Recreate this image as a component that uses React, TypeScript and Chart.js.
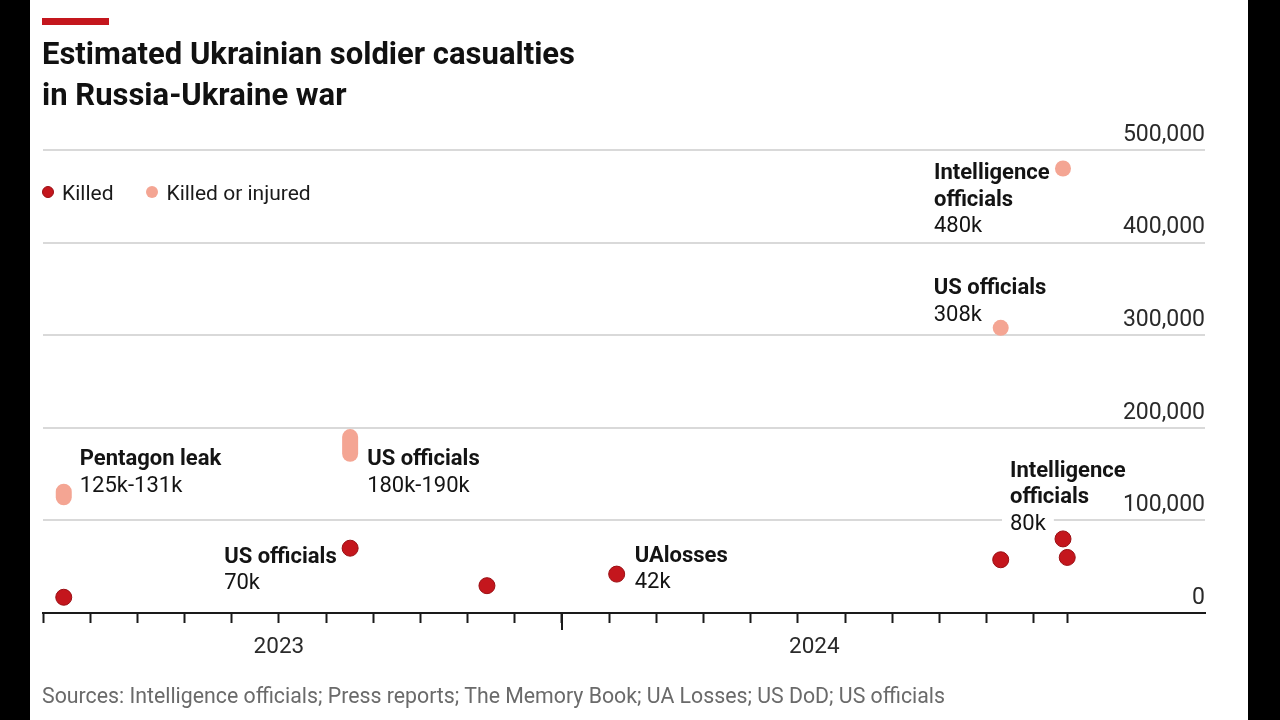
import React, { useEffect, useRef } from "react";
import { Chart, registerables } from "chart.js";

Chart.register(...registerables);

// ---------- Data (x = months since 1 Feb 2023) ----------
const killedMonth = [0.44, 6.51, 9.41, 12.16, 20.3, 21.62, 21.71];
const killedValue = [17000, 70000, 29500, 42000, 57500, 80000, 60000];

const injuredMonth = [20.3, 21.62];
const injuredValue = [308000, 480000];

const rangeMonth = [0.44, 6.51];
const rangeLow = [125000, 172000];
const rangeHigh = [131000, 190000];

const monthTicks = [0, 1, 2, 3, 4, 5, 6, 7, 8, 9, 10, 11, 12, 13, 14, 15, 16, 17, 18, 19, 20, 21, 21.71];
const yearStartTick = 11;
const yearLabels = ["2023", "2024"];
const yearLabelMonth = [5, 16.35];

const yTicks = [0, 100000, 200000, 300000, 400000, 500000];

const annotationTitles = [
  ["Pentagon leak"],
  ["US officials"],
  ["US officials"],
  ["UAlosses"],
  ["Intelligence", "officials"],
  ["US officials"],
  ["Intelligence", "officials"],
];
const annotationValues = ["125k-131k", "180k-190k", "70k", "42k", "80k", "308k", "480k"];

// ---------- Styling / layout ----------
const RED = "#c4161d";
const RED_EDGE = "#9a0e13";
const PINK = "#f4a593";
const FONT = "Roboto, 'Noto Sans', sans-serif";

// which point each annotation is attached to, and pixel offset of its text block
const annotationAnchors = [
  { series: "range", index: 0, dx: 16, dy: -37 },
  { series: "range", index: 1, dx: 17, dy: 12 },
  { series: "killed", index: 1, dx: -126, dy: 6.5 },
  { series: "killed", index: 3, dx: 18, dy: -20 },
  { series: "killed", index: 5, dx: -53, dy: -70 },
  { series: "injured", index: 0, dx: -67, dy: -41.3 },
  { series: "injured", index: 1, dx: -129, dy: 2.7 },
];
const LINE_GAP = 26.3;

const anchorValue = (a: { series: string; index: number }) => {
  if (a.series === "range") return [rangeMonth[a.index], (rangeLow[a.index] + rangeHigh[a.index]) / 2];
  if (a.series === "killed") return [killedMonth[a.index], killedValue[a.index]];
  return [injuredMonth[a.index], injuredValue[a.index]];
};

const annotationPlugin = {
  id: "annotations",
  beforeDatasetsDraw(chart: any) {
    const { ctx, scales } = chart;
    const xs = scales.x;
    const ys = scales.y;
    ctx.save();
    annotationAnchors.forEach((a, k) => {
      const [vx, vy] = anchorValue(a);
      const px = xs.getPixelForValue(vx);
      const py = ys.getPixelForValue(vy);
      const lines = [
        ...annotationTitles[k].map((t) => ({ t, bold: true })),
        { t: annotationValues[k], bold: false },
      ];
      lines.forEach((ln, i) => {
        const cy = py + a.dy + i * LINE_GAP;
        const lx = px + a.dx;
        ctx.font = (ln.bold ? "bold " : "") + "22px " + FONT;
        const w = ctx.measureText(ln.t).width;
        ctx.fillStyle = "#ffffff";
        ctx.fillRect(lx - 8, cy - 11, w + 16, 22);
        ctx.fillStyle = "#141414";
        ctx.textAlign = "left";
        ctx.textBaseline = "alphabetic";
        ctx.fillText(ln.t, lx, cy + 8);
      });
    });
    ctx.restore();
  },
};

const axisExtrasPlugin = {
  id: "axisExtras",
  afterDraw(chart: any) {
    const { ctx, scales, chartArea } = chart;
    const xs = scales.x;
    ctx.save();
    // longer tick at the start of the year
    const p = Math.round(xs.getPixelForValue(yearStartTick));
    ctx.strokeStyle = "#1a1a1a";
    ctx.lineWidth = 2;
    ctx.beginPath();
    ctx.moveTo(p, chartArea.bottom);
    ctx.lineTo(p, chartArea.bottom + 17);
    ctx.stroke();
    // year labels
    ctx.font = "22.5px " + FONT;
    ctx.fillStyle = "#2a2a2a";
    ctx.textAlign = "center";
    ctx.textBaseline = "alphabetic";
    yearLabels.forEach((lab, i) => {
      ctx.fillText(lab, xs.getPixelForValue(yearLabelMonth[i]), chartArea.bottom + 40);
    });
    ctx.restore();
  },
};

export default function App() {
  const canvasRef = useRef<HTMLCanvasElement | null>(null);

  useEffect(() => {
    if (!canvasRef.current) return;
    const rangeSets = rangeMonth.map((m, i) => ({
      type: "line" as const,
      label: "Killed or injured (range)",
      data: [
        { x: m, y: rangeLow[i] },
        { x: m, y: rangeHigh[i] },
      ],
      borderColor: PINK,
      borderWidth: 16,
      borderCapStyle: "round" as const,
      pointRadius: 0,
      showLine: true,
      clip: false as const,
    }));
    const chart = new Chart(canvasRef.current, {
      type: "scatter",
      data: {
        datasets: [
          ...rangeSets,
          {
            label: "Killed or injured",
            data: injuredMonth.map((m, i) => ({ x: m, y: injuredValue[i] })),
            pointRadius: 8,
            pointBackgroundColor: PINK,
            pointBorderColor: PINK,
            pointBorderWidth: 0,
            clip: false,
          },
          {
            label: "Killed",
            data: killedMonth.map((m, i) => ({ x: m, y: killedValue[i] })),
            pointRadius: 8,
            pointBackgroundColor: RED,
            pointBorderColor: RED_EDGE,
            pointBorderWidth: 1,
            clip: false,
          },
        ] as any,
      },
      options: {
        responsive: false,
        animation: false,
        events: [],
        layout: { padding: { left: 13, right: 43, top: 150, bottom: 97 } },
        plugins: { legend: { display: false }, tooltip: { enabled: false } },
        scales: {
          x: {
            type: "linear",
            min: 0,
            max: 24.63,
            afterBuildTicks: (s: any) => {
              s.ticks = monthTicks.map((v) => ({ value: v }));
            },
            ticks: { display: false },
            grid: {
              display: true,
              drawOnChartArea: false,
              drawTicks: true,
              tickLength: 10,
              tickColor: "#1a1a1a",
              tickWidth: 2,
            },
            border: { display: true, color: "#1a1a1a", width: 2 },
          },
          y: {
            type: "linear",
            position: "right",
            min: 0,
            max: 500000,
            afterBuildTicks: (s: any) => {
              s.ticks = yTicks.map((v) => ({ value: v }));
            },
            ticks: {
              mirror: true,
              padding: 0,
              labelOffset: -15,
              color: "#2a2a2a",
              font: { family: FONT, size: 23 },
              callback: (v: any) => Number(v).toLocaleString("en-US"),
            },
            grid: {
              drawTicks: false,
              color: (c: any) => (c.tick && c.tick.value === 0 ? "rgba(0,0,0,0)" : "#d9d9d9"),
              lineWidth: 2,
            },
            border: { display: false },
          },
        },
      } as any,
      plugins: [annotationPlugin, axisExtrasPlugin],
    });
    return () => chart.destroy();
  }, []);

  const dot = (c: string, edge?: string) => (
    <span
      style={{
        display: "inline-block",
        width: 12,
        height: 12,
        borderRadius: "50%",
        background: c,
        boxSizing: "border-box",
        border: edge ? `1px solid ${edge}` : "none",
        marginRight: 8,
        verticalAlign: "middle",
        position: "relative",
        top: -2,
      }}
    />
  );

  return (
    <div style={{ position: "fixed", left: 0, top: 0, width: 1280, height: 720, background: "#000", overflow: "hidden" }}>
      <div style={{ position: "absolute", left: 30, top: 0, width: 1218, height: 720, background: "#fff", fontFamily: FONT }}>
        <canvas ref={canvasRef} width={1218} height={720} style={{ position: "absolute", left: 0, top: 0 }} />
        <div style={{ position: "absolute", left: 12, top: 18, width: 67, height: 7, background: RED }} />
        <div
          style={{
            position: "absolute",
            left: 12,
            top: 33,
            fontSize: 31,
            fontWeight: 700,
            lineHeight: "41px",
            color: "#111",
            whiteSpace: "nowrap",
          }}
        >
          Estimated Ukrainian soldier casualties
          <br />
          in Russia-Ukraine war
        </div>
        <div style={{ position: "absolute", left: 12, top: 180, fontSize: 21, color: "#1a1a1a", lineHeight: "26px", whiteSpace: "nowrap" }}>
          {dot(RED, RED_EDGE)}
          <span style={{ marginRight: 33 }}>Killed</span>
          {dot(PINK)}
          <span>Killed or injured</span>
        </div>
        <div style={{ position: "absolute", left: 12, top: 682, fontSize: 21.3, color: "#6a6a6a", lineHeight: "28px", whiteSpace: "nowrap" }}>
          Sources: Intelligence officials; Press reports; The Memory Book; UA Losses; US DoD; US officials
        </div>
      </div>
    </div>
  );
}
